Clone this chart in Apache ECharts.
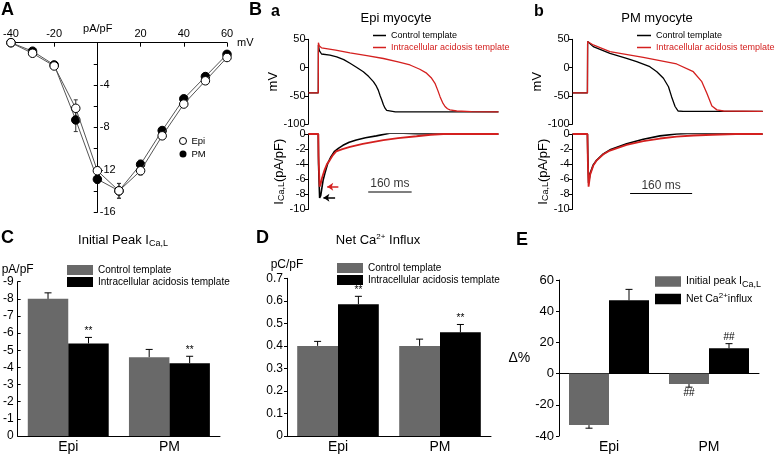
<!DOCTYPE html>
<html><head><meta charset="utf-8">
<script src="https://cdn.jsdelivr.net/npm/echarts@6/dist/echarts.min.js"></script>
<style>html,body{margin:0;padding:0;background:#fff}#c{width:778px;height:454px}</style>
</head><body><div id="c"></div>
<script>
// ---------- Panel A : I-V relation ----------
const ivVoltages = [-40,-30,-20,-10,0,10,20,30,40,50,60];
const ivEpi      = [0,-1.0,-2.2,-6.2,-12.1,-14.0,-12.1,-8.8,-5.8,-3.6,-1.4];
const ivEpiErr   = [0.1,0.2,0.2,0.8,0.4,0.7,0.4,0.3,0.3,0.2,0.2];
const ivPM       = [0,-0.8,-2.1,-7.3,-12.9,-14.0,-11.5,-8.3,-5.3,-3.2,-1.1];
const ivPMErr    = [0.1,0.2,0.2,1.1,0.4,0.7,0.4,0.3,0.3,0.2,0.2];

// ---------- Panel B a : Epi myocyte (t ms, value) ----------
const epiCtrlAP = [[0,-45],[36,-45],[36.5,40],[40,30],[48,24],[79,22],[104,19],[130,14],[153,7.5],[178,0],[202,-7.4],[222,-16],[239,-25],[250,-33],[257,-40],[264,-50],[270,-57.5],[276,-66],[282,-72],[288,-76],[294,-78],[320,-78.5],[700,-78.5]];
const epiAcidAP = [[0,-45],[36,-45],[36.5,44],[40,38],[48,35],[100,31],[153,26],[215,21],[276,16],[330,10],[374,4.5],[410,-3],[435,-10],[452,-18],[466,-28],[476,-40],[485,-52],[494,-62],[503,-69],[512,-73],[521,-75],[546,-77],[600,-78],[700,-78.5]];
const epiCtrlI  = [[0,0],[36,0],[37,-4],[41,-8.5],[45,-8.2],[54,-6.1],[62,-5],[71,-3.9],[83,-3],[96,-2.3],[110,-1.9],[127,-1.5],[150,-1.1],[176,-0.8],[210,-0.5],[250,-0.25],[299,0.1],[350,0.1],[400,0.05],[500,0],[700,0]];
const epiAcidI  = [[0,0],[36,0],[37,-3],[41,-7],[45,-6.6],[50,-5.8],[59,-4.8],[68,-4],[78,-3.5],[90,-2.8],[102,-2.3],[125,-2],[153,-1.7],[200,-1.3],[276,-0.8],[330,-0.55],[398,-0.3],[450,-0.1],[497,0],[700,0]];
const epiScaleBar = [[220,-7.7],[380,-7.7]];
const epiArrowAcid = [[110,-7],[69,-7]];
const epiArrowCtrl = [[98,-8.45],[55,-8.45]];

// ---------- Panel B b : PM myocyte ----------
const pmCtrlAP = [[0,-45],[38,-45],[38.5,46],[42,43],[53,37],[96,25.2],[139,16.3],[165,10.4],[199,1.5],[217,-7.4],[234,-19],[247,-34],[255,-51.6],[264,-69],[272,-77],[285,-77.5],[490,-77.5]];
const pmAcidAP = [[0,-45],[38,-45],[38.5,46],[42,43],[53,40],[96,28],[182,18.1],[268,6.3],[311,-7.4],[333,-25],[346,-45.6],[359,-68],[372,-75],[389,-77],[490,-77.5]];
const pmCtrlI  = [[0,0],[38,0],[39,-3],[41,-6.5],[45,-5.2],[53,-4.1],[62,-3.45],[79,-2.65],[96,-2.1],[139,-1.3],[182,-0.7],[225,-0.25],[268,0],[311,0.1],[360,0.05],[490,0]];
const pmAcidI  = [[0,0],[38,0],[39,-3.5],[41,-7],[45,-5.4],[53,-4.2],[62,-3.5],[79,-2.7],[96,-2.2],[139,-1.45],[182,-0.95],[225,-0.6],[268,-0.35],[311,-0.2],[360,-0.1],[420,0],[490,0]];
const pmScaleBar = [[148,-7.9],[308,-7.9]];

// ---------- Panels C, D, E ----------
const groups = ['Epi','PM'];
const peakCtrl = [-8.0,-4.6],  peakCtrlErr = [0.35,0.45], peakCtrlMarks = ['',''];
const peakAcid = [-5.4,-4.25], peakAcidErr = [0.35,0.4],  peakAcidMarks = ['**','**'];
const fluxCtrl = [0.40,0.40],  fluxCtrlErr = [0.02,0.03], fluxCtrlMarks = ['',''];
const fluxAcid = [0.585,0.46], fluxAcidErr = [0.035,0.035], fluxAcidMarks = ['**','**'];
const deltaPeak = [-33,-6.7],  deltaPeakErr = [2,2],  deltaPeakMarks = ['','##'];
const deltaFlux = [47,16.2],   deltaFluxErr = [7,3],  deltaFluxMarks = ['','##'];

const FONT = '"Liberation Sans", Arial, Helvetica, sans-serif';
const RED = '#d4201f', GRAY = '#696969';
const NAMES = {
  Ba_ctrl:'Control template', Ba_acid:'Intracellular acidosis template',
  Bb_ctrl:'Control template', Bb_acid:'Intracellular acidosis template',
  C_ctrl:'Control template', C_acid:'Intracellular acidosis template',
  D_ctrl:'Control template', D_acid:'Intracellular acidosis template',
  E_peak:'Initial peak I{s|Ca,L}', E_net:'Net Ca{p|2+}influx'
};

const chart = echarts.init(document.getElementById('c'), null, {renderer:'canvas'});
const blk = {color:'#000', width:1};

function xy(a){ return a.map(p => [p[0], p[1]]); }

function barErr(name, gi, vals, errs, marks, side){
  return {
    type:'custom', name:name, xAxisIndex:gi, yAxisIndex:gi, z:5, silent:true,
    data: vals.map((v,i)=>[i, v, errs[i]]),
    renderItem: function(params, api){
      const i = api.value(0), v = api.value(1), e = api.value(2);
      const band = api.size([1,0])[0];
      const base = api.coord([i, v]);
      const x = base[0] + side*band*0.2;
      const endV = v >= 0 ? v + e : v - e;
      const tip = api.coord([i, endV]);
      const up = tip[1] < base[1];
      const ch = [
        {type:'line', shape:{x1:x,y1:base[1],x2:x,y2:tip[1]}, style:{stroke:'#000', lineWidth:1}},
        {type:'line', shape:{x1:x-3.5,y1:tip[1],x2:x+3.5,y2:tip[1]}, style:{stroke:'#000', lineWidth:1}}
      ];
      const m = marks[params.dataIndex];
      if (m) ch.push({type:'text', x:x, y: up ? tip[1]-1 : tip[1]+1,
        style:{text:m, fill:'#000', font:'10px '+FONT, align:'center', verticalAlign: up?'bottom':'top'}});
      return {type:'group', children:ch};
    }
  };
}

function ivErr(xs, ys, es){
  return {
    type:'custom', xAxisIndex:0, yAxisIndex:0, z:2, silent:true,
    data: xs.map((x,i)=>[x, ys[i], es[i]]),
    renderItem: function(params, api){
      const x = api.value(0), y = api.value(1), e = api.value(2);
      const a = api.coord([x, y+e]), b = api.coord([x, y-e]);
      return {type:'group', children:[
        {type:'line', shape:{x1:a[0],y1:a[1],x2:b[0],y2:b[1]}, style:{stroke:'#333', lineWidth:1}},
        {type:'line', shape:{x1:a[0]-2,y1:a[1],x2:a[0]+2,y2:a[1]}, style:{stroke:'#333', lineWidth:1}},
        {type:'line', shape:{x1:b[0]-2,y1:b[1],x2:b[0]+2,y2:b[1]}, style:{stroke:'#333', lineWidth:1}}
      ]};
    }
  };
}

const richSub = {
  s:{fontSize:9, padding:[7,0,0,0], fontFamily:FONT, color:'#000'},
  p:{fontSize:8, padding:[0,0,7,0], fontFamily:FONT, color:'#000'}
};

function bAxisV(gi, min, max, interval, nameTxt, nameRich){
  return {gridIndex:gi, type:'value', min:min, max:max, interval:interval,
    axisLine:{show:true, onZero:false, lineStyle:blk}, axisTick:{show:true, length:4, lineStyle:blk},
    axisLabel:{color:'#000', fontSize:11, fontFamily:FONT, margin:3}, splitLine:{show:false},
    name:nameTxt, nameLocation:'middle', nameRotate:90, nameGap:20,
    nameTextStyle:{color:'#000', fontSize:13, fontFamily:FONT, rich:nameRich||{}}};
}
const iName = 'I{s|Ca,L}(pA/pF)';
const iRich = {s:{fontSize:9, padding:[0,0,0,0], fontFamily:FONT, color:'#000', verticalAlign:'bottom'}};

function catAxis(gi, extra){
  return Object.assign({gridIndex:gi, type:'category', data:groups,
    axisLine:{show:true, onZero:false, lineStyle:blk}, axisTick:{show:false},
    axisLabel:{color:'#000', fontSize:14, fontFamily:FONT, margin:4}}, extra||{});
}
function barS(name, gi, vals, color){
  return {type:'bar', name:name, xAxisIndex:gi, yAxisIndex:gi, data:vals, barGap:'0%', barCategoryGap:'20%',
    itemStyle:{color:color}, z:3, silent:true};
}
function trace(name, gi, data, color, w){
  return {type:'line', name:name, xAxisIndex:gi, yAxisIndex:gi, data:xy(data), symbol:'none',
    lineStyle:{color:color, width:w}, itemStyle:{color:color}, silent:true};
}
function scaleBar(gi, data){
  return [
    {type:'line', xAxisIndex:gi, yAxisIndex:gi, data:xy(data), symbol:'none', lineStyle:{color:'#000', width:1.2}, silent:true},
    {type:'scatter', xAxisIndex:gi, yAxisIndex:gi, symbolSize:0, silent:true,
      data:[[(data[0][0]+data[1][0])/2, data[0][1]]],
      label:{show:true, position:'top', distance:2, formatter:'160 ms', color:'#000', fontSize:12, fontFamily:FONT}}
  ];
}
function arrow(gi, pts, color){
  return {type:'line', xAxisIndex:gi, yAxisIndex:gi, data:[], silent:true,
    markLine:{silent:true, symbol:['none','arrow'], symbolSize:[6,6], label:{show:false},
      lineStyle:{color:color, width:1.5, type:'solid'},
      data:[[{coord:pts[0]},{coord:pts[1]}]]}};
}
function legend(names, left, top, opts){
  return Object.assign({left:left, top:top, orient:'vertical', padding:0, itemGap:2, selectedMode:false,
    formatter: n => NAMES[n] || n, textStyle:{color:'#000', fontSize:10, fontFamily:FONT, rich:richSub},
    data:names}, opts||{});
}

const A_LEFT = 10, A_WIDTH = 217, A_XMIN = -40, A_XMAX = 60;
const option = {
  animation:false,
  backgroundColor:'#fff',
  textStyle:{fontFamily:FONT},
  grid:[
    {left:A_LEFT, top:42.7, width:A_WIDTH, height:169.3},
    {left:308.5, top:39.3, width:190, height:84.7},
    {left:308.5, top:134, width:190, height:75.3},
    {left:572.7, top:39.3, width:190, height:84.7},
    {left:572.7, top:134, width:190, height:75.3},
    {left:15, top:281.7, width:205, height:157.6},
    {left:287, top:278.3, width:204, height:160},
    {left:559, top:280, width:200, height:159}
  ],
  xAxis:[
    {gridIndex:0, type:'value', min:A_XMIN, max:A_XMAX, interval:20, position:'top',
      axisLine:{onZero:false, lineStyle:blk}, axisTick:{inside:true, length:4, lineStyle:blk},
      axisLabel:{formatter: v => v===0 ? '' : String(v), color:'#000', fontSize:11, fontFamily:FONT, margin:3},
      splitLine:{show:false}, name:'mV', nameLocation:'end', nameGap:6,
      nameTextStyle:{color:'#000', fontSize:11, fontFamily:FONT, verticalAlign:'middle'}},
    {gridIndex:1, type:'value', min:0, max:700, show:false},
    {gridIndex:2, type:'value', min:0, max:700, show:false},
    {gridIndex:3, type:'value', min:0, max:490, show:false},
    {gridIndex:4, type:'value', min:0, max:490, show:false},
    catAxis(5),
    catAxis(6),
    catAxis(7, {position:'bottom', axisLine:{show:false, onZero:false}}),
    catAxis(7, {position:'top', axisLine:{show:true, onZero:true, lineStyle:blk}, axisLabel:{show:false}})
  ],
  yAxis:[
    {gridIndex:0, type:'value', min:-16, max:0, interval:2, position:'left',
      // place the vertical axis at 0 mV
      offset: -A_WIDTH * (0 - A_XMIN) / (A_XMAX - A_XMIN),
      axisLine:{onZero:false, lineStyle:blk}, axisTick:{length:4, lineStyle:blk},
      axisLabel:{inside:true, margin:2, color:'#000', fontSize:11, fontFamily:FONT,
        formatter: v => (v % 4 === 0 && v !== 0) ? String(v) : ''},
      splitLine:{show:false}, name:'pA/pF', nameLocation:'end', nameGap:8,
      nameTextStyle:{color:'#000', fontSize:11, fontFamily:FONT}},
    bAxisV(1, -100, 50, 50, 'mV'),
    bAxisV(2, -10, 0, 2, iName, iRich),
    bAxisV(3, -100, 50, 50, 'mV'),
    bAxisV(4, -10, 0, 2, iName, iRich),
    {gridIndex:5, type:'value', inverse:true, min:-9, max:0, interval:1,
      axisLine:{show:true, lineStyle:blk}, axisTick:{show:true, inside:true, length:3, lineStyle:blk},
      axisLabel:{color:'#000', fontSize:12, fontFamily:FONT, margin:4}, splitLine:{show:false},
      name:'pA/pF', nameLocation:'start', nameGap:6, nameTextStyle:{color:'#000', fontSize:12, fontFamily:FONT}},
    {gridIndex:6, type:'value', min:0, max:0.7, interval:0.1,
      axisLine:{show:true, lineStyle:blk}, axisTick:{show:true, length:3, lineStyle:blk},
      axisLabel:{color:'#000', fontSize:12, fontFamily:FONT, margin:4, formatter: v => v===0 ? '0' : v.toFixed(1)},
      splitLine:{show:false},
      name:'pC/pF', nameLocation:'end', nameGap:8, nameTextStyle:{color:'#000', fontSize:12, fontFamily:FONT}},
    {gridIndex:7, type:'value', min:-40, max:60, interval:20,
      axisLine:{show:true, onZero:false, lineStyle:blk}, axisTick:{show:true, length:3, lineStyle:blk},
      axisLabel:{color:'#000', fontSize:13, fontFamily:FONT, margin:5}, splitLine:{show:false},
      name:'Δ%', nameLocation:'middle', nameRotate:0, nameGap:23,
      nameTextStyle:{color:'#000', fontSize:14, fontFamily:FONT}}
  ],
  legend:[
    legend([{name:'Epi', itemStyle:{color:'#fff', borderColor:'#000', borderWidth:1}}, {name:'PM', itemStyle:{color:'#000', borderWidth:0}}],
      179, 136, {icon:'circle', itemWidth:7, itemHeight:7, itemGap:3, textStyle:{color:'#000', fontSize:9.5, fontFamily:FONT}}),
    legend([{name:'Ba_ctrl', itemStyle:{color:'#000', borderWidth:0}}, {name:'Ba_acid', itemStyle:{color:RED, borderWidth:0}, textStyle:{color:RED}}],
      373, 30, {icon:'rect', itemWidth:13, itemHeight:1.5, itemGap:1, textStyle:{color:'#000', fontSize:9, fontFamily:FONT, lineHeight:11}}),
    legend([{name:'Bb_ctrl', itemStyle:{color:'#000', borderWidth:0}}, {name:'Bb_acid', itemStyle:{color:RED, borderWidth:0}, textStyle:{color:RED}}],
      637, 30, {icon:'rect', itemWidth:14, itemHeight:1.5, itemGap:1, textStyle:{color:'#000', fontSize:9, fontFamily:FONT, lineHeight:11}}),
    legend([{name:'C_ctrl', itemStyle:{color:GRAY}}, {name:'C_acid', itemStyle:{color:'#000'}}],
      67, 265, {icon:'rect', itemWidth:26, itemHeight:10, itemGap:2}),
    legend([{name:'D_ctrl', itemStyle:{color:GRAY}}, {name:'D_acid', itemStyle:{color:'#000'}}],
      337, 263, {icon:'rect', itemWidth:26, itemHeight:10, itemGap:2}),
    legend([{name:'E_peak', itemStyle:{color:GRAY}}, {name:'E_net', itemStyle:{color:'#000'}}],
      655, 276, {icon:'rect', itemWidth:26, itemHeight:10.5, itemGap:2, textStyle:{color:'#000', fontSize:10.5, fontFamily:FONT, rich:richSub}})
  ],
  graphic:[
    {type:'text', x:1, y:1, style:{text:'A', font:'bold 18px '+FONT, fill:'#000'}},
    {type:'text', x:249, y:1, style:{text:'B', font:'bold 18px '+FONT, fill:'#000'}},
    {type:'text', x:271, y:4, style:{text:'a', font:'bold 16px '+FONT, fill:'#000'}},
    {type:'text', x:534, y:4, style:{text:'b', font:'bold 16px '+FONT, fill:'#000'}},
    {type:'text', x:396, y:18, style:{text:'Epi myocyte', font:'13px '+FONT, fill:'#000', align:'center', verticalAlign:'middle'}},
    {type:'text', x:657, y:18, style:{text:'PM myocyte', font:'13px '+FONT, fill:'#000', align:'center', verticalAlign:'middle'}},
    {type:'text', x:1, y:229, style:{text:'C', font:'bold 18px '+FONT, fill:'#000'}},
    {type:'text', x:256, y:229, style:{text:'D', font:'bold 18px '+FONT, fill:'#000'}},
    {type:'text', x:516, y:231, style:{text:'E', font:'bold 18px '+FONT, fill:'#000'}},
    {type:'text', x:123, y:240, style:{text:'Initial Peak I{s|Ca,L}', fontSize:13, fontFamily:FONT, fill:'#000', align:'center', verticalAlign:'middle',
      rich:{s:{fontSize:9, padding:[7,0,0,0], fontFamily:FONT, fill:'#000'}}}},
    {type:'text', x:378, y:240, style:{text:'Net Ca{p|2+} Influx', fontSize:13, fontFamily:FONT, fill:'#000', align:'center', verticalAlign:'middle',
      rich:{p:{fontSize:8, padding:[0,0,7,0], fontFamily:FONT, fill:'#000'}}}}
  ],
  series:[
    // A
    ivErr(ivVoltages, ivPM, ivPMErr),
    ivErr(ivVoltages, ivEpi, ivEpiErr),
    {type:'line', name:'PM', xAxisIndex:0, yAxisIndex:0, data:ivVoltages.map((x,i)=>[x, ivPM[i]]),
      symbol:'circle', symbolSize:8.5, itemStyle:{color:'#000', borderColor:'#000', borderWidth:1},
      lineStyle:{color:'#555', width:1}, z:3, silent:true},
    {type:'line', name:'Epi', xAxisIndex:0, yAxisIndex:0, data:ivVoltages.map((x,i)=>[x, ivEpi[i]]),
      symbol:'circle', symbolSize:8.5, itemStyle:{color:'#fff', borderColor:'#000', borderWidth:1},
      lineStyle:{color:'#555', width:1}, z:4, silent:true},
    // B a
    trace('Ba_ctrl', 1, epiCtrlAP, '#000', 1.3),
    trace('Ba_acid', 1, epiAcidAP, RED, 1.3),
    trace('Ba_ctrl', 2, epiCtrlI, '#000', 1.6),
    trace('Ba_acid', 2, epiAcidI, RED, 1.8),
    ...scaleBar(2, epiScaleBar),
    arrow(2, epiArrowAcid, RED),
    arrow(2, epiArrowCtrl, '#000'),
    // B b
    trace('Bb_ctrl', 3, pmCtrlAP, '#000', 1.3),
    trace('Bb_acid', 3, pmAcidAP, RED, 1.3),
    trace('Bb_ctrl', 4, pmCtrlI, '#000', 1.6),
    trace('Bb_acid', 4, pmAcidI, RED, 1.8),
    ...scaleBar(4, pmScaleBar),
    // C
    barS('C_ctrl', 5, peakCtrl, GRAY),
    barS('C_acid', 5, peakAcid, '#000'),
    barErr('Cc', 5, peakCtrl, peakCtrlErr, peakCtrlMarks, -1),
    barErr('Ca', 5, peakAcid, peakAcidErr, peakAcidMarks, 1),
    // D
    barS('D_ctrl', 6, fluxCtrl, GRAY),
    barS('D_acid', 6, fluxAcid, '#000'),
    barErr('Dc', 6, fluxCtrl, fluxCtrlErr, fluxCtrlMarks, -1),
    barErr('Da', 6, fluxAcid, fluxAcidErr, fluxAcidMarks, 1),
    // E
    barS('E_peak', 7, deltaPeak, GRAY),
    barS('E_net', 7, deltaFlux, '#000'),
    barErr('Ep', 7, deltaPeak, deltaPeakErr, deltaPeakMarks, -1),
    barErr('En', 7, deltaFlux, deltaFluxErr, deltaFluxMarks, 1)
  ]
};
chart.setOption(option);
</script></body></html>
